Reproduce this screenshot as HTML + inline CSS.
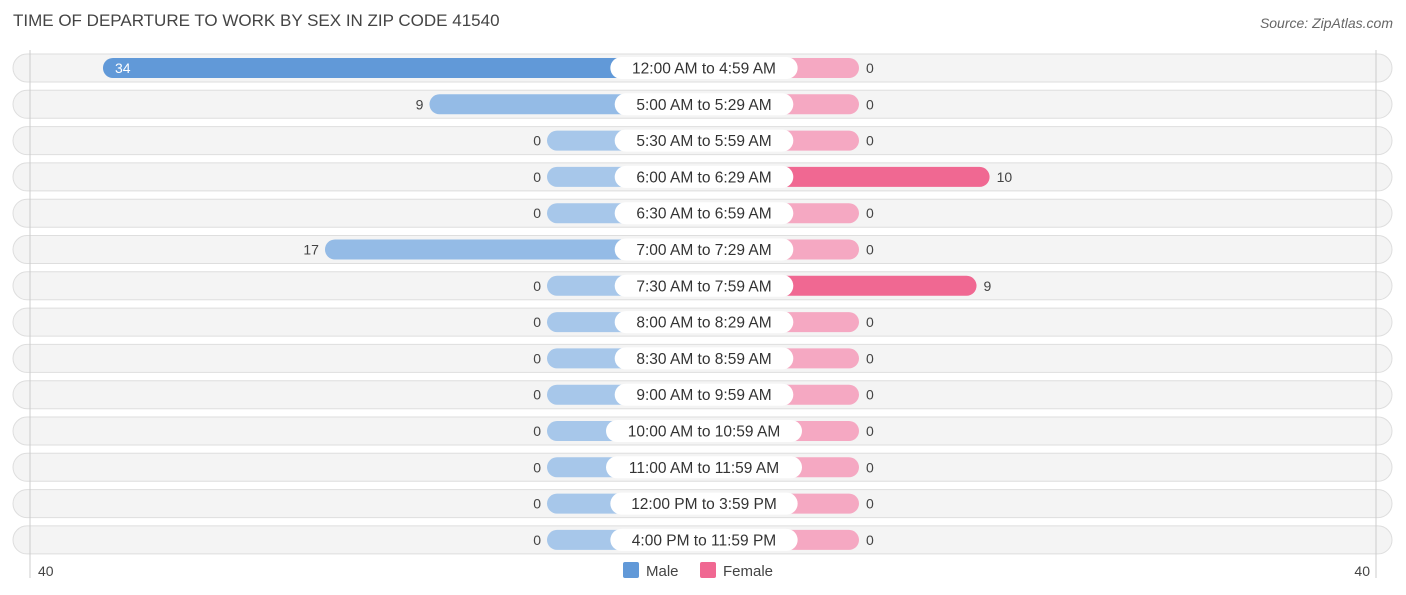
<!DOCTYPE html>
<html><head><meta charset="utf-8"><style>
body{margin:0;width:1406px;height:595px;background:#fff;font-family:"Liberation Sans",sans-serif;position:relative;overflow:hidden}
.t{position:absolute;left:13px;top:11px;font-size:17px;color:#444}
.src{position:absolute;right:13px;top:15px;font-size:14px;color:#666;font-style:italic}
</style></head><body>
<div class="t">TIME OF DEPARTURE TO WORK BY SEX IN ZIP CODE 41540</div>
<div class="src">Source: ZipAtlas.com</div>
<svg id="c" width="1406" height="595" style="position:absolute;left:0;top:0"></svg>
<script>
const categories=["12:00 AM to 4:59 AM","5:00 AM to 5:29 AM","5:30 AM to 5:59 AM","6:00 AM to 6:29 AM","6:30 AM to 6:59 AM","7:00 AM to 7:29 AM","7:30 AM to 7:59 AM","8:00 AM to 8:29 AM","8:30 AM to 8:59 AM","9:00 AM to 9:59 AM","10:00 AM to 10:59 AM","11:00 AM to 11:59 AM","12:00 PM to 3:59 PM","4:00 PM to 11:59 PM"];
const male=[34,9,0,0,0,17,0,0,0,0,0,0,0,0];
const female=[0,0,0,10,0,0,9,0,0,0,0,0,0,0];
const axisMax=40;
const NS="http://www.w3.org/2000/svg";
const svg=document.getElementById('c');
const cx=703,stub=156,scale=13.06;
function mx(v){return cx-stub-v*scale}
function fx(v){return cx+stub+v*scale}
function rowY(i){return 68+i*36.3}
function el(t,a,p){const e=document.createElementNS(NS,t);for(const k in a)e.setAttribute(k,a[k]);(p||svg).appendChild(e);return e}
function line(x){const l=el('line',{x1:x,x2:x,y1:50,y2:578,stroke:'#ccc','stroke-width':1});

}
categories.forEach((c,i)=>{
 const y=rowY(i);
 const g=el('g',{});
 
 
 const bg=el('rect',{x:13,y:y-14,width:1379,height:28,rx:14,fill:'#f4f4f4',stroke:'#dedede','stroke-width':1},g);
 
 
 const m=male[i],f=female[i];
 const x0=mx(m);
 const mb=el('rect',{x:x0,y:y-10,width:cx-x0,height:20,rx:10,fill:m>0?'#6199d8':'#a7c7ea'},g);
 if(m>0&&m<20)mb.setAttribute('fill','#94bbe6');
 
 
 const x1=fx(f);
 const fb=el('rect',{x:cx,y:y-10,width:x1-cx,height:20,rx:10,fill:f>0?'#f06892':'#f5a8c2'},g);
 
 
 const lw=c.length*8.7+22;
 const lb=el('rect',{x:cx-lw/2+1,y:y-11,width:lw,height:22,rx:11,fill:'#fff'},g);
 
 
 const lt=el('text',{x:cx+1,y:y+5.5,'text-anchor':'middle','font-size':15.5,fill:'#333'},g);
 lt.textContent=c;
 
 
 let mv;
 if(m>=25){mv=el('text',{x:x0+12,y:y+5,'font-size':14,fill:'#fff'},g);}
 else{mv=el('text',{x:x0-6,y:y+5,'text-anchor':'end','font-size':14,fill:'#444'},g);}
 mv.textContent=m;
 
 
 const fv=el('text',{x:x1+7,y:y+5,'font-size':14,fill:'#444'},g);
 fv.textContent=f;
 
 
});
line(30);line(1376);
const a1=el('text',{x:38,y:576,'font-size':14,fill:'#444'});a1.textContent=axisMax;


const a2=el('text',{x:1370,y:576,'text-anchor':'end','font-size':14,fill:'#444'});a2.textContent=axisMax;


const lg=[["Male","#6199d8",623],["Female","#f06892",700]];
lg.forEach(d=>{
 const r=el('rect',{x:d[2],y:562,width:16,height:16,rx:2,fill:d[1]});
 
 
 const t=el('text',{x:d[2]+23,y:576,'font-size':15,fill:'#444'});t.textContent=d[0];
 
 
});
</script>
</body></html>
